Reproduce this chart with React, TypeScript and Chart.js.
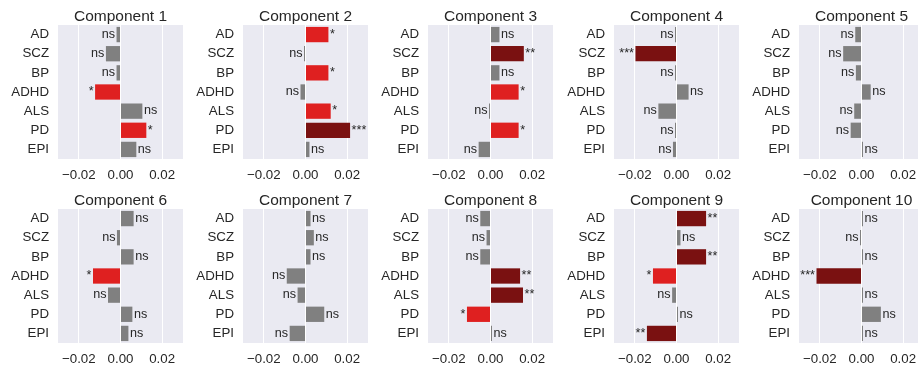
import React, { useEffect, useRef } from "react";
import { Chart, registerables } from "chart.js";

Chart.register(...registerables);

const categories = ["AD", "SCZ", "BP", "ADHD", "ALS", "PD", "EPI"];
const componentTitles = [
  "Component 1", "Component 2", "Component 3", "Component 4", "Component 5",
  "Component 6", "Component 7", "Component 8", "Component 9", "Component 10",
];
const xTickValues = [-0.02, 0, 0.02];
const xMin = -0.03;
const xMax = 0.03;

const componentValues: number[][] = [
  [-0.0019, -0.007, -0.0019, -0.0122, 0.0105, 0.0124, 0.0076],
  [0.011, -0.0006, 0.011, -0.0024, 0.0121, 0.0214, 0.0019],
  [0.0043, 0.016, 0.0043, 0.0135, -0.0004, 0.0135, -0.0057],
  [-0.0002, -0.0197, -0.0003, 0.0058, -0.0087, -0.0005, -0.0017],
  [-0.003, -0.0088, -0.0027, 0.0044, -0.0035, -0.0052, 0.0002],
  [0.0063, -0.0017, 0.0063, -0.0132, -0.006, 0.0057, 0.0038],
  [0.0024, 0.004, 0.0024, -0.009, -0.0038, 0.009, -0.0076],
  [-0.0049, -0.0019, -0.0049, 0.0142, 0.0156, -0.0113, 0.0003],
  [0.0142, 0.0019, 0.0142, -0.0113, -0.0021, 0.0002, -0.0142],
  [0.0003, -0.0003, 0.0003, -0.0216, 0.0001, 0.0093, 0.0003],
];

const componentSignificance: string[][] = [
  ["ns", "ns", "ns", "*", "ns", "*", "ns"],
  ["*", "ns", "*", "ns", "*", "***", "ns"],
  ["ns", "**", "ns", "*", "ns", "*", "ns"],
  ["ns", "***", "ns", "ns", "ns", "ns", "ns"],
  ["ns", "ns", "ns", "ns", "ns", "ns", "ns"],
  ["ns", "ns", "ns", "*", "ns", "ns", "ns"],
  ["ns", "ns", "ns", "ns", "ns", "ns", "ns"],
  ["ns", "ns", "ns", "**", "**", "*", "ns"],
  ["**", "ns", "**", "*", "ns", "ns", "**"],
  ["ns", "ns", "ns", "***", "ns", "ns", "ns"],
];

const FONT = "'Liberation Sans', Arial, Helvetica, sans-serif";
const TEXT = "#262626";
const BG = "#EAEAF2";

function colorFor(sig: string) {
  if (sig === "ns") return "#808080";
  if (sig === "*") return "#DF2020";
  return "#7A1111";
}

const CANVAS_W = 185;
const CANVAS_H = 184;
const colLefts = [0, 185, 370, 556, 741];
const rowTops = [0, 184];

function makeChart(canvas: HTMLCanvasElement, idx: number) {
  const values = componentValues[idx];
  const sigs = componentSignificance[idx];
  const title = componentTitles[idx];

  const panelPlugin = {
    id: "panelDecor" + idx,
    beforeDraw(chart: any) {
      const { ctx, chartArea } = chart;
      ctx.save();
      ctx.fillStyle = BG;
      ctx.fillRect(chartArea.left, chartArea.top, chartArea.right - chartArea.left, chartArea.bottom - chartArea.top);
      ctx.restore();
    },
    afterDatasetsDraw(chart: any) {
      const { ctx, chartArea } = chart;
      const meta = chart.getDatasetMeta(0);
      ctx.save();
      ctx.font = `12.6px ${FONT}`;
      ctx.fillStyle = TEXT;
      ctx.textBaseline = "alphabetic";
      meta.data.forEach((bar: any, i: number) => {
        const v = values[i];
        const y = bar.y + 3.3;
        if (v >= 0) {
          ctx.textAlign = "left";
          ctx.fillText(sigs[i], bar.x + 1.5, y);
        } else {
          ctx.textAlign = "right";
          ctx.fillText(sigs[i], bar.x - 1.5, y);
        }
      });
      ctx.font = `15.5px ${FONT}`;
      ctx.textAlign = "center";
      ctx.fillText(title, (chartArea.left + chartArea.right) / 2, chartArea.top - 4);
      ctx.restore();
    },
  };

  return new Chart(canvas, {
    type: "bar",
    data: {
      labels: categories,
      datasets: [
        {
          data: values,
          backgroundColor: sigs.map(colorFor),
          borderWidth: 0,
          barPercentage: 0.8,
          categoryPercentage: 1.0,
          minBarLength: 1.5,
        },
      ],
    },
    options: {
      indexAxis: "y",
      responsive: false,
      animation: false,
      devicePixelRatio: 1,
      layout: { padding: { top: 25, right: 2, left: 0, bottom: 0 } },
      plugins: {
        legend: { display: false },
        title: { display: false },
        tooltip: { enabled: false },
      },
      scales: {
        x: {
          type: "linear",
          min: xMin,
          max: xMax,
          afterBuildTicks: (scale: any) => {
            scale.ticks = xTickValues.map((v) => ({ value: v }));
          },
          afterFit: (scale: any) => {
            scale.height = 25;
          },
          grid: { color: "#FFFFFF", lineWidth: 1, drawTicks: false },
          border: { display: false },
          ticks: {
            padding: 8,
            color: TEXT,
            font: { family: FONT, size: 13.3 },
            maxRotation: 0,
            callback: (v: any) => {
              const n = Number(v);
              if (Math.abs(n) < 1e-12) return "0.00";
              return (n < 0 ? "\u2212" : "") + Math.abs(n).toFixed(2);
            },
          },
        },
        y: {
          type: "category",
          afterFit: (scale: any) => {
            scale.width = 58;
          },
          grid: { display: false, drawTicks: false },
          border: { display: false },
          ticks: {
            padding: 9,
            color: TEXT,
            font: { family: FONT, size: 13.3 },
          },
        },
      },
    },
    plugins: [panelPlugin],
  } as any);
}

export default function App() {
  const refs = useRef<(HTMLCanvasElement | null)[]>([]);

  useEffect(() => {
    const charts: Chart[] = [];
    refs.current.forEach((c, i) => {
      if (c) charts.push(makeChart(c, i));
    });
    return () => {
      charts.forEach((ch) => ch.destroy());
    };
  }, []);

  return (
    <div
      style={{
        position: "absolute",
        left: 0,
        top: 0,
        width: 918,
        height: 366,
        overflow: "hidden",
        background: "#FFFFFF",
      }}
    >
      {componentTitles.map((t, i) => {
        const r = Math.floor(i / 5);
        const c = i % 5;
        return (
          <canvas
            key={t}
            ref={(el) => {
              refs.current[i] = el;
            }}
            width={CANVAS_W}
            height={CANVAS_H}
            style={{
              position: "absolute",
              left: colLefts[c],
              top: rowTops[r],
              width: CANVAS_W,
              height: CANVAS_H,
            }}
          />
        );
      })}
    </div>
  );
}
